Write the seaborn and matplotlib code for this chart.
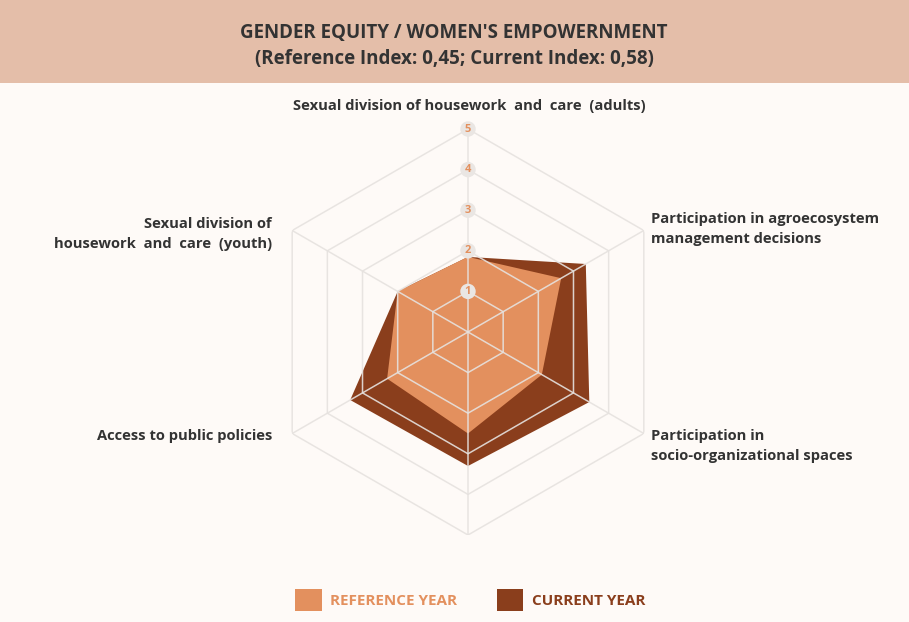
import numpy as np
import matplotlib.pyplot as plt
import seaborn as sns
from matplotlib.patches import Patch, Rectangle

# Data
categories = [
    "Sexual division of housework  and  care  (adults)",
    "Participation in agroecosystem\nmanagement decisions",
    "Participation in\nsocio-organizational spaces",
    "",
    "Access to public policies",
    "Sexual division of\nhousework  and  care  (youth)",
]
reference_year = [1.85, 2.65, 2.1, 2.5, 2.3, 2.0]
current_year = [1.85, 3.35, 3.45, 3.3, 3.35, 2.0]
levels = [1, 2, 3, 4, 5]
series_names = ["REFERENCE YEAR", "CURRENT YEAR"]

BG = "#FEFAF7"
HEADER = "#E4BEA9"
COL_REF = "#E3905E"
COL_CUR = "#8A3E1C"
GRID = "#E6E2DF"
TXT = "#333333"

sns.set_theme(style="white")
plt.rcParams["font.family"] = ["Open Sans", "DejaVu Sans"]

fig = plt.figure(figsize=(9.09, 6.22), dpi=100, facecolor=BG)

# header band
fig.patches.append(Rectangle((0, 1 - 83 / 622), 1, 83 / 622, transform=fig.transFigure,
                             facecolor=HEADER, edgecolor="none", zorder=0))
fig.text(454 / 909, 1 - 33 / 622, "GENDER EQUITY / WOMEN'S EMPOWERNMENT", ha="center", va="center",
         fontsize=13.5, fontweight="bold", color=TXT)
fig.text(454 / 909, 1 - 59 / 622, "(Reference Index: 0,45; Current Index: 0,58)", ha="center", va="center",
         fontsize=13.5, fontweight="bold", color=TXT)

# radar axes
cx, cy, R = 468 / 909, 1 - 332 / 622, 203
ax = fig.add_axes([cx - R / 909, cy - R / 622, 2 * R / 909, 2 * R / 622], projection="polar")
ax.set_facecolor("none")
ax.set_theta_offset(np.pi / 2)
ax.set_theta_direction(-1)
ax.set_ylim(0, 5)
ax.spines["polar"].set_visible(False)
ax.grid(False)
ax.set_xticks([])
ax.set_yticks([])

n = len(categories)
angles = np.linspace(0, 2 * np.pi, n, endpoint=False)
closed = np.append(angles, angles[0])

cur = np.append(current_year, current_year[0])
ref = np.append(reference_year, reference_year[0])
ax.fill(closed, cur, color=COL_CUR, lw=0, zorder=2)
ax.fill(closed, ref, color=COL_REF, lw=0, zorder=3)

# hexagonal grid
for lv in levels:
    ax.plot(closed, [lv] * (n + 1), color=GRID, lw=1.1, alpha=0.9, zorder=4)
for a in angles:
    ax.plot([a, a], [0, levels[-1]], color=GRID, lw=1.1, alpha=0.9, zorder=4)

for lv in levels:
    ax.text(0, lv, str(lv), ha="center", va="center", fontsize=8, fontweight="bold", color=COL_REF,
            zorder=6, bbox=dict(boxstyle="circle,pad=0.2", fc="#EAE6E3", ec="none"))

# category labels
W, H = 909, 622
label_pos = [
    (469, 106, "center"),
    (651, 229, "left"),
    (651, 446, "left"),
    (468, 560, "center"),
    (272, 436, "right"),
    (272, 234, "right"),
]
for lab, (x, y, ha) in zip(categories, label_pos):
    fig.text(x / W, 1 - y / H, lab, ha=ha, va="center", fontsize=10.6, fontweight="bold",
             color=TXT, linespacing=1.6)

# legend
handles = [Patch(facecolor=COL_REF, edgecolor="none"), Patch(facecolor=COL_CUR, edgecolor="none")]
leg = fig.legend(handles, series_names, loc="center", bbox_to_anchor=(470 / W, 1 - 600 / H), ncol=2,
                 frameon=False, fontsize=11, handlelength=1.75, handleheight=1.9, handletextpad=0.55,
                 columnspacing=2.6)
for t, c in zip(leg.get_texts(), [COL_REF, COL_CUR]):
    t.set_color(c)
    t.set_fontweight("bold")

fig.savefig("out.png", dpi=100, facecolor=BG)
